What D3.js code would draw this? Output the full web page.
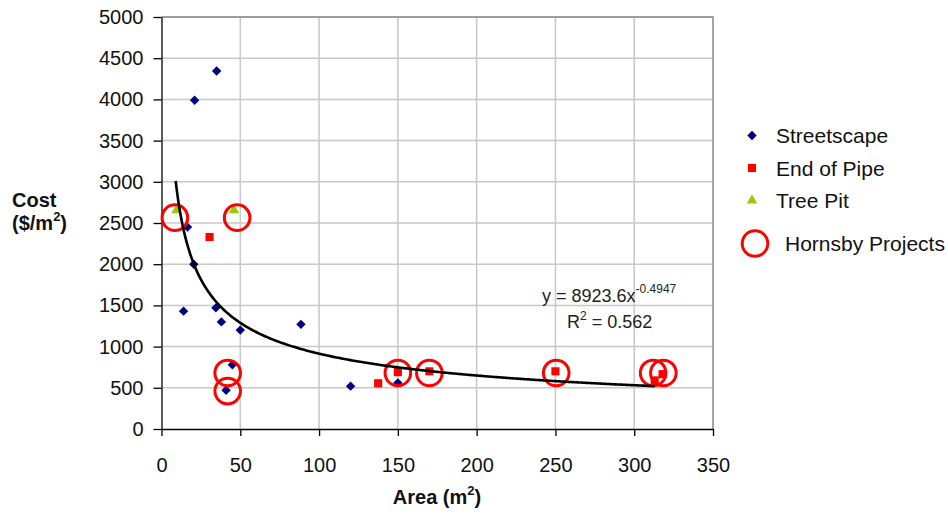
<!DOCTYPE html>
<html>
<head>
<meta charset="utf-8">
<script src="https://cdn.jsdelivr.net/npm/d3@7/dist/d3.min.js"></script>
<style>
  html, body { margin: 0; padding: 0; background: #fff; }
  svg { display: block; font-family: "Liberation Sans", Arial, sans-serif; }
  .axis path, .axis line { stroke: #000; stroke-width: 1.3; }
  .axis text { font-size: 20px; fill: #111; }
  .grid line { stroke: #c8c8c8; stroke-width: 1.5; }
</style>
</head>
<body>
<svg id="chart" width="948" height="514"></svg>
<script>
// Data
const streetscapeArea = [21, 35, 16.5, 20.5, 14, 34.5, 38, 50, 88.5, 45, 41, 120, 150];
const streetscapeCost = [3990, 4345, 2450, 2000, 1430, 1470, 1300, 1200, 1270, 780, 470, 520, 560];

const endPipeArea = [30.5, 137.5, 150, 170, 250, 313, 318];
const endPipeCost = [2330, 555, 690, 700, 700, 590, 665];

const treePitArea = [9.5, 46];
const treePitCost = [2655, 2655];

const hornsbyArea = [8.5, 48, 42, 42, 150, 170, 250.5, 312, 318.5];
const hornsbyCost = [2565, 2565, 680, 460, 680, 680, 680, 680, 680];

// Power trendline as printed on the chart
const fitA = 8923.6;
const fitB = -0.4947;
const fitRange = [9, 313];

const xTicks = [0, 50, 100, 150, 200, 250, 300, 350];
const yTicks = [0, 500, 1000, 1500, 2000, 2500, 3000, 3500, 4000, 4500, 5000];

const legendLabels = ['Streetscape', 'End of Pipe', 'Tree Pit', 'Hornsby Projects'];

const svg = d3.select('#chart');

const x = d3.scaleLinear().domain([0, 350]).range([161.5, 713]);
const y = d3.scaleLinear().domain([0, 5000]).range([429, 17]);

const zip = (a, b) => a.map((v, i) => [v, b[i]]);

// Gridlines
const grid = svg.append('g').attr('class', 'grid');
grid.selectAll('.gy')
    .data(yTicks.filter(d => d > 0))
    .enter().append('line')
    .attr('x1', x(0)).attr('x2', x(350))
    .attr('y1', d => y(d)).attr('y2', d => y(d));
grid.selectAll('.gx')
    .data(xTicks.filter(d => d > 0))
    .enter().append('line')
    .attr('x1', d => x(d)).attr('x2', d => x(d))
    .attr('y1', y(0)).attr('y2', y(5000));

// plot border (top / right)
svg.append('path')
    .attr('d', `M${x(0)},${y(5000)}H${x(350)}V${y(0)}`)
    .attr('fill', 'none')
    .attr('stroke', '#8a8a8a')
    .attr('stroke-width', 1.3);

// Axes
svg.append('g')
    .attr('class', 'axis')
    .attr('transform', `translate(${x(0)},0)`)
    .call(d3.axisLeft(y).tickValues(yTicks).tickFormat(d3.format('d')).tickSizeInner(8).tickSizeOuter(0).tickPadding(10));

svg.append('g')
    .attr('class', 'axis')
    .attr('transform', `translate(0,${y(0)})`)
    .call(d3.axisBottom(x).tickValues(xTicks).tickFormat(d3.format('d')).tickSizeInner(7).tickSizeOuter(0).tickPadding(22));

// Series marks
const diamond = d3.symbol().type(d3.symbolSquare).size(44);
const square = d3.symbol().type(d3.symbolSquare).size(66);
const triangle = d3.symbol().type(d3.symbolTriangle).size(48);

svg.append('g').selectAll('path')
    .data(zip(streetscapeArea, streetscapeCost))
    .enter().append('path')
    .attr('d', diamond)
    .attr('transform', d => `translate(${x(d[0])},${y(d[1])}) rotate(45)`)
    .attr('fill', '#000080');

svg.append('g').selectAll('path')
    .data(zip(endPipeArea, endPipeCost))
    .enter().append('path')
    .attr('d', square)
    .attr('transform', d => `translate(${x(d[0])},${y(d[1])})`)
    .attr('fill', '#ff0000');

svg.append('g').selectAll('path')
    .data(zip(treePitArea, treePitCost))
    .enter().append('path')
    .attr('d', triangle)
    .attr('transform', d => `translate(${x(d[0])},${y(d[1])})`)
    .attr('fill', '#99cc00');

svg.append('g').selectAll('circle')
    .data(zip(hornsbyArea, hornsbyCost))
    .enter().append('circle')
    .attr('cx', d => x(d[0]))
    .attr('cy', d => y(d[1]))
    .attr('r', 12.8)
    .attr('fill', 'none')
    .attr('stroke', '#ff0000')
    .attr('stroke-width', 3);

// Trendline
const fitX = d3.range(fitRange[0], fitRange[1] + 0.5, 1);
svg.append('path')
    .datum(fitX)
    .attr('fill', 'none')
    .attr('stroke', '#000')
    .attr('stroke-width', 2.6)
    .attr('d', d3.line().x(d => x(d)).y(d => y(fitA * Math.pow(d, fitB))).curve(d3.curveMonotoneX));

// Equation text
const eq = svg.append('text')
    .attr('x', 542).attr('y', 302)
    .attr('font-size', 18).attr('fill', '#222');
eq.append('tspan').text('y = 8923.6x');
eq.append('tspan').attr('font-size', 12).attr('dy', -9).text('-0.4947');

const r2 = svg.append('text')
    .attr('x', 567).attr('y', 328)
    .attr('font-size', 18).attr('fill', '#222');
r2.append('tspan').text('R');
r2.append('tspan').attr('font-size', 12).attr('dy', -8).text('2');
r2.append('tspan').attr('dy', 8).text(' = 0.562');

// Axis titles
const yTitle = svg.append('text')
    .attr('x', 12).attr('y', 207)
    .attr('font-size', 20).attr('font-weight', 'bold').attr('fill', '#111');
yTitle.append('tspan').text('Cost');
const yTitle2 = svg.append('text')
    .attr('x', 12).attr('y', 230)
    .attr('font-size', 20).attr('font-weight', 'bold').attr('fill', '#111');
yTitle2.append('tspan').text('($/m');
yTitle2.append('tspan').attr('font-size', 13).attr('dy', -9).text('2');
yTitle2.append('tspan').attr('dy', 9).text(')');

const xTitle = svg.append('text')
    .attr('x', 437).attr('y', 504)
    .attr('text-anchor', 'middle')
    .attr('font-size', 20).attr('font-weight', 'bold').attr('fill', '#111');
xTitle.append('tspan').text('Area (m');
xTitle.append('tspan').attr('font-size', 13).attr('dy', -9).text('2');
xTitle.append('tspan').attr('dy', 9).text(')');

// Legend
const legend = svg.append('g');
const legendY = [135.5, 168, 200.5, 243.5];
legend.append('path').attr('d', diamond).attr('transform', `translate(752,${legendY[0]}) rotate(45)`).attr('fill', '#000080');
legend.append('path').attr('d', square).attr('transform', `translate(752,${legendY[1]})`).attr('fill', '#ff0000');
legend.append('path').attr('d', triangle).attr('transform', `translate(752,${legendY[2]})`).attr('fill', '#99cc00');
legend.append('circle').attr('cx', 755).attr('cy', legendY[3]).attr('r', 12.8)
    .attr('fill', 'none').attr('stroke', '#ff0000').attr('stroke-width', 3);

legend.selectAll('text')
    .data(legendLabels)
    .enter().append('text')
    .attr('x', (d, i) => i === 3 ? 785 : 776)
    .attr('y', (d, i) => legendY[i])
    .attr('dy', '0.36em')
    .attr('font-size', 21)
    .attr('fill', '#111')
    .text(d => d);
</script>
</body>
</html>
